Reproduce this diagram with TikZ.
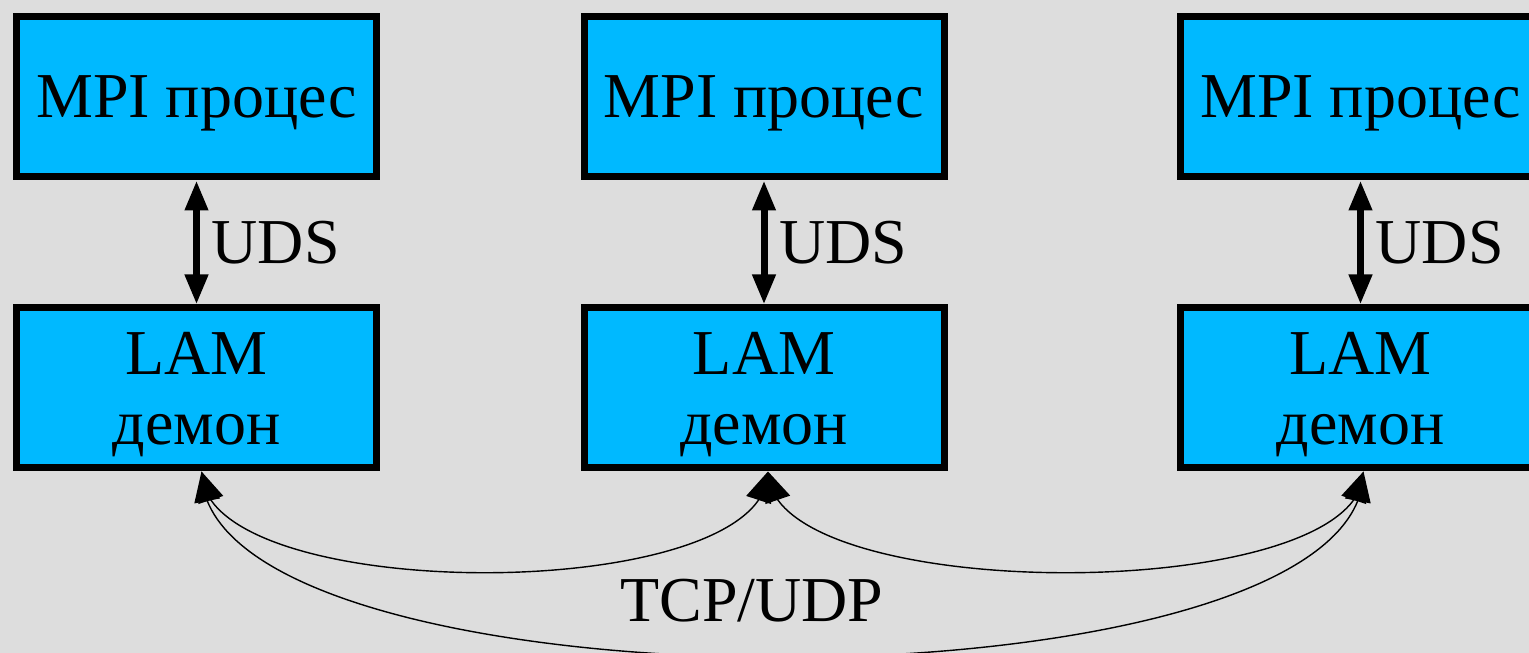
\documentclass[tikz,border=0pt]{standalone}
\usepackage{fontspec}
\setmainfont{Liberation Serif}
\usetikzlibrary{arrows.meta, bending, positioning}
\definecolor{boxblue}{RGB}{0,185,255}
\definecolor{bggray}{RGB}{221,221,221}
\tikzset{
    procbox/.style = {draw, line width = 0.07cm, fill = boxblue, minimum width = 3.6cm,
        minimum height = 1.6cm, align = center, text depth = 0pt, font = \fontsize{18.2}{19.9}\selectfont},
    udsarrow/.style = {{Triangle[length=0.3cm,width=0.22cm]}-{Triangle[length=0.3cm,width=0.22cm]}, line width = 0.07cm},
    netarrow/.style = {{Triangle[length=0.3cm,width=0.26cm]}-{Triangle[length=0.3cm,width=0.26cm]}, line width = 0.4pt},
    lbl/.style = {text depth = 0pt, font = \fontsize{18.2}{19.9}\selectfont}
}

\begin{document}
\begin{tikzpicture}
            \useasboundingbox (0,0) rectangle (15.29,-6.53);
            \clip (0,0) rectangle (15.29,-6.53);
            \fill[bggray] (0,0) rectangle (15.29,-6.53);

            \node[procbox] (mpi1) at (1.965,-0.97) {MPI процес};
            \node[procbox] (mpi2) at (7.64,-0.97) {MPI процес};
            \node[procbox] (mpi3) at (13.605,-0.97) {MPI процес};

            \node[procbox] (lam1) at (1.965,-3.88) {LAM\\демон};
            \node[procbox] (lam2) at (7.64,-3.88) {LAM\\демон};
            \node[procbox] (lam3) at (13.605,-3.88) {LAM\\демон};

            \draw[udsarrow] (mpi1) -- node[right, lbl] {UDS} (lam1);
            \draw[udsarrow] (mpi2) -- node[right, lbl] {UDS} (lam2);
            \draw[udsarrow] (mpi3) -- node[right, lbl] {UDS} (lam3);

            \draw[netarrow] ([xshift=0.05cm]lam1.south) .. controls +(0,-1.35) and +(0,-1.35) .. ([xshift=0.04cm]lam2.south);
            \draw[netarrow] ([xshift=0.04cm]lam2.south) .. controls +(0,-1.35) and +(0,-1.35) .. ([xshift=0.03cm]lam3.south);
            \draw[netarrow] ([xshift=0.05cm]lam1.south) .. controls +(0,-2.48) and +(0,-2.48) .. ([xshift=0.03cm]lam3.south);

            \node[lbl] (tcp) at (7.52,-6.0) {TCP/UDP};
        \end{tikzpicture}
\end{document}
